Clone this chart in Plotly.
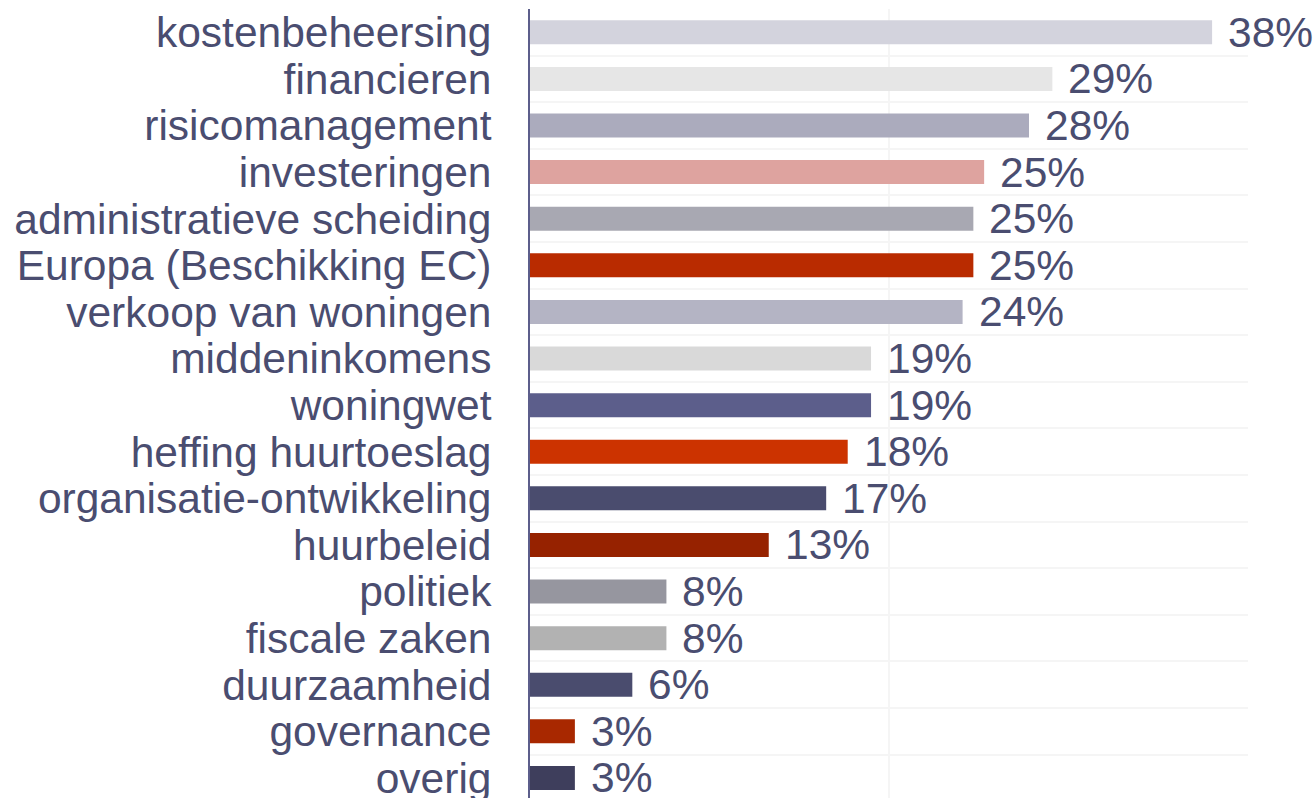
import plotly.graph_objects as go

topics = [
    "kostenbeheersing", "financieren", "risicomanagement", "investeringen",
    "administratieve scheiding", "Europa (Beschikking EC)", "verkoop van woningen",
    "middeninkomens", "woningwet", "heffing huurtoeslag", "organisatie-ontwikkeling",
    "huurbeleid", "politiek", "fiscale zaken", "duurzaamheid", "governance", "overig",
]
share = [38.0, 29.1, 27.8, 25.3, 24.7, 24.7, 24.1, 19.0, 19.0, 17.7, 16.5, 13.3,
         7.6, 7.6, 5.7, 2.5, 2.5]
share_labels = ["38%", "29%", "28%", "25%", "25%", "25%", "24%", "19%", "19%", "18%",
                "17%", "13%", "8%", "8%", "6%", "3%", "3%"]
bar_colors = [
    "#d3d3dd", "#e6e6e6", "#ababbd", "#dea39f", "#a8a8b2", "#b92b00", "#b4b4c4",
    "#d9d9d9", "#5c5e8b", "#cc3300", "#4a4c6e", "#962200", "#96969f", "#b2b2b2",
    "#4a4c6e", "#a82800", "#3e3e5c",
]

text_col = "#4a4d70"
font_size = 42.5

fig = go.Figure()
fig.add_trace(go.Bar(
    x=share, y=topics, orientation="h",
    marker=dict(color=bar_colors, line=dict(width=0)),
    hoverinfo="skip",
))

# value labels right of the bars
for t, v, lab in zip(topics, share, share_labels):
    fig.add_annotation(
        x=v, y=t, text=lab, showarrow=False,
        xanchor="left", xshift=14,
        font=dict(size=font_size, color=text_col),
    )

fig.update_xaxes(
    range=[0, 40], dtick=20, showticklabels=False,
    showgrid=True, gridcolor="#f5f5f5", gridwidth=2,
    zeroline=False, showline=False,
)
# every category gets its label, grid lines sit between the rows
fig.update_yaxes(
    type="category", range=[16.43, -0.5], dtick=1,
    tickson="boundaries", ticks="", showgrid=True,
    gridcolor="#f5f5f5", gridwidth=2,
    showline=True, linecolor="#5c5e8b", linewidth=2,
    ticklabelstandoff=28,
    tickfont=dict(size=font_size, color=text_col),
)

fig.update_layout(
    width=1316, height=798,
    margin=dict(l=530, r=68, t=9, b=0, autoexpand=False),
    bargap=0.485,
    showlegend=False,
    plot_bgcolor="white", paper_bgcolor="white",
    font=dict(family="Liberation Sans, Arial, sans-serif", color=text_col),
)

# drop the default page margin so the figure fills the window exactly
fig.write_html(
    "out.html",
    config={"displayModeBar": False},
    post_script="document.body.style.margin='0';document.body.style.overflow='hidden';",
)
